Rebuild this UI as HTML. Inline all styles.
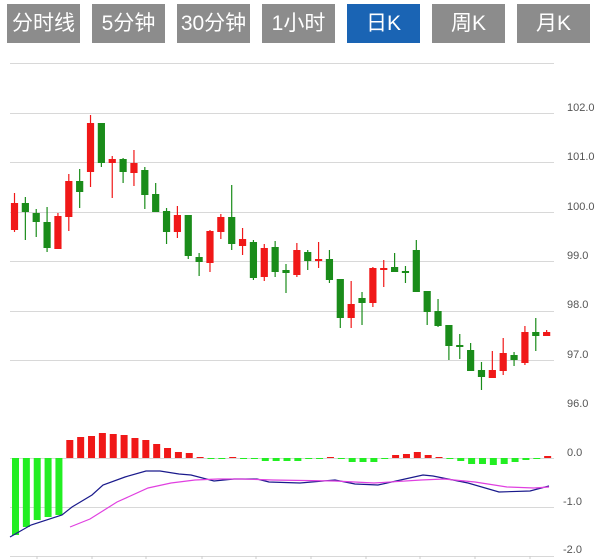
<!DOCTYPE html>
<html><head><meta charset="utf-8"><style>
body{margin:0;background:#fff;width:604px;height:559px;overflow:hidden;font-family:"Liberation Sans","Noto Sans CJK SC",sans-serif}
.b{position:absolute;top:4px;height:39px;width:73px;background:#8c8c8c;color:#fff;font-size:21px;line-height:39px;text-align:center}
.b.a{background:#1a64b4}
svg{position:absolute;left:0;top:0}
</style></head><body>
<div class="b" style="left:7px">分时线</div>
<div class="b" style="left:92px">5分钟</div>
<div class="b" style="left:177px">30分钟</div>
<div class="b" style="left:262px">1小时</div>
<div class="b a" style="left:347px">日K</div>
<div class="b" style="left:432px">周K</div>
<div class="b" style="left:517px">月K</div>
<svg width="604" height="559" id="s" xmlns="http://www.w3.org/2000/svg" font-family="Liberation Sans, sans-serif" font-size="11" fill="#555">
<g stroke="#d8d8d8" stroke-width="1">
<line x1="10" y1="63.5" x2="554" y2="63.5"/>
<line x1="10" y1="113.5" x2="554" y2="113.5"/>
<line x1="10" y1="162.5" x2="554" y2="162.5"/>
<line x1="10" y1="212.5" x2="554" y2="212.5"/>
<line x1="10" y1="261.5" x2="554" y2="261.5"/>
<line x1="10" y1="311.5" x2="554" y2="311.5"/>
<line x1="10" y1="360.5" x2="554" y2="360.5"/>
<line x1="10" y1="458.5" x2="554" y2="458.5"/>
<line x1="10" y1="507.5" x2="554" y2="507.5"/>
<line x1="10" y1="556.5" x2="554" y2="556.5"/>
</g>
<g fill="#555">
<text x="567" y="111">102.0</text><text x="567" y="160">101.0</text><text x="567" y="210">100.0</text>
<text x="567" y="259">99.0</text><text x="567" y="308">98.0</text><text x="567" y="358">97.0</text><text x="567" y="407">96.0</text>
<text x="567" y="456">0.0</text><text x="563" y="505">-1.0</text><text x="563" y="553">-2.0</text>
</g>
<g id="c"></g>
</svg>
<script>
var C=[
['r',203,230,193,232],['g',203,212,197,240],['g',213,222,209,237],['g',222,248,207,252],['r',216,249,213,249],
['r',181,217,174,231],['g',181,192,169,208],['r',123,172,115,187],['g',123,163,123,167],['r',159,163,156,198],
['g',159,172,158,183],['r',163,173,150,186],['g',170,195,167,209],['g',194,212,183,212],['g',211,232,208,244],
['r',215,232,206,238],['g',215,256,215,259],['g',257,262,253,276],['r',231,263,230,272],['r',217,232,214,239],
['g',217,244,185,250],['r',239,246,228,255],['g',242,278,240,280],['r',248,277,244,281],['g',247,272,241,277],
['g',270,273,264,293],['r',250,275,243,277],['g',252,261,250,270],['r',259,261,242,268],['g',259,280,250,283],
['g',279,318,279,328],['r',304,318,281,328],['g',298,303,292,325],['r',268,303,267,307],['r',268,270,260,287],
['g',267,272,253,272],['g',271,273,266,283],['g',250,292,240,292],['g',291,312,291,325],['g',311,326,299,327],
['g',325,346,325,360],['g',345,347,334,359],['g',350,371,343,371],['g',370,377,362,390],['r',370,378,351,378],
['r',353,371,338,375],['g',355,360,352,366],['r',332,363,326,365],['g',332,336,318,351],['r',332,336,330,336]];
var M=[535,527,520,517,515,440,437,436,433,434,435,438,440,444,448,452,453,457,459,459,457,458,458,461,461,461,461,459,458,457,458,462,462,462,458,455,454,452,455,457,459,461,464,464,465,464,462,460,459,456];
var s='';
for(var i=0;i<C.length;i++){var c=C[i],x=14.5+10.86*i,col=c[0]=='r'?'#f01818':'#1a8c1a';
s+='<line x1="'+x+'" x2="'+x+'" y1="'+c[3]+'" y2="'+c[4]+'" stroke="'+col+'" stroke-width="1.2"/>';
var h=Math.max(c[2]-c[1],2);s+='<rect x="'+(x-3.6)+'" y="'+c[1]+'" width="7.2" height="'+h+'" fill="'+col+'"/>';}
for(var i=0;i<M.length;i++){var x=15.5+10.86*i,v=M[i],y=Math.min(v,458),h=Math.abs(v-458);if(h<1)h=1;
var col=v<458?'#f01818':'#22ee22';if(i<5)col='#22ee22';
s+='<rect x="'+(x-3.5)+'" y="'+y+'" width="7" height="'+h+'" fill="'+col+'"/>';}
var D=[[10,537],[31,525],[62,515],[72,507],[92,495],[103,485],[125,477],[146,471],[160,471],[179,474],[191,475],[214,481],[234,479],[257,479],[269,482],[300,483],[335,480],[355,484],[378,485],[405,479],[423,475],[433,476],[448,479],[468,483],[499,492],[530,491],[549,486]];
var E=[[70,527],[90,519],[117,502],[148,488],[171,483],[195,480],[218,479],[242,479],[273,480],[335,481],[374,483],[421,480],[444,479],[475,482],[507,487],[534,488],[549,487]];
s+='<polyline fill="none" stroke="#1a1a8c" stroke-width="1.2" points="'+D.join(' ')+'"/>';
s+='<polyline fill="none" stroke="#e040e0" stroke-width="1.2" points="'+E.join(' ')+'"/>';
[37,92,146,202,256,311,366,420,475,530].forEach(function(x){s+='<line x1="'+x+'" x2="'+x+'" y1="556" y2="559" stroke="#ccc"/>';});
document.getElementById('c').innerHTML=s;
</script>
</body></html>
